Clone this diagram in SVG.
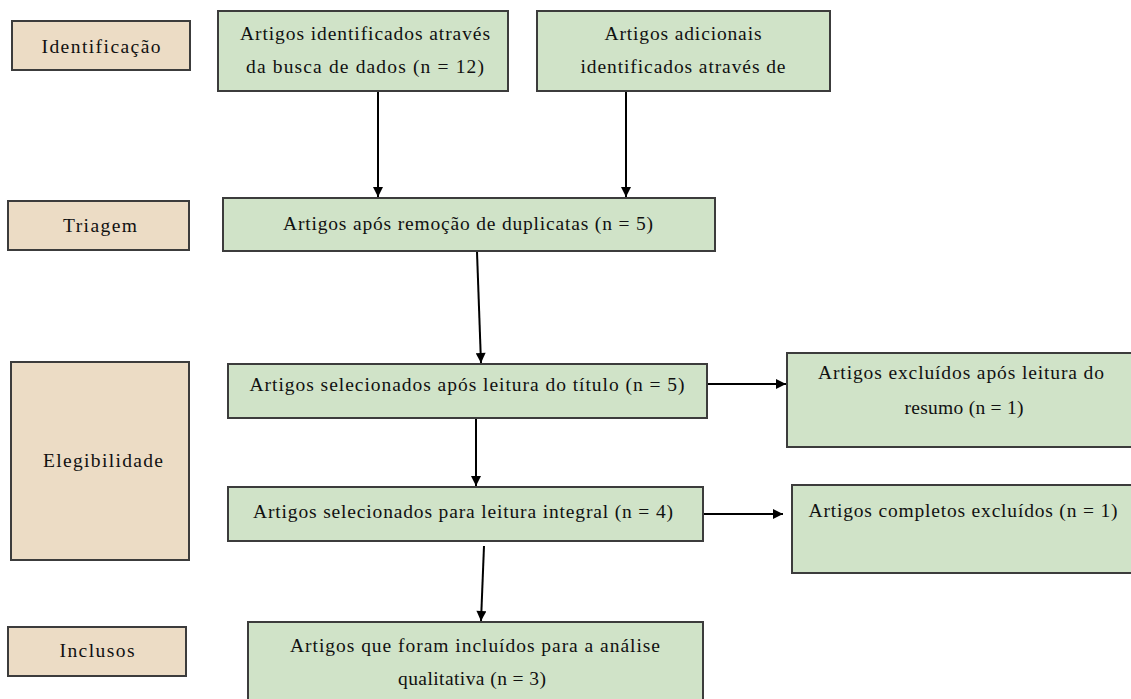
<svg xmlns="http://www.w3.org/2000/svg" width="1131" height="699" viewBox="0 0 1131 699">
<defs>
<marker id="ah" viewBox="0 0 10 10" refX="10" refY="5" markerWidth="13" markerHeight="10" markerUnits="userSpaceOnUse" orient="auto"><path d="M0,0 L10,5 L0,10 z" fill="#000"/></marker>
<style>
.lab{fill:#ecdcc5;stroke:#3c3c3c;stroke-width:2}
.box{fill:#d0e3c8;stroke:#3c3c3c;stroke-width:2}
text{font-family:"Liberation Serif","Times New Roman",serif;font-size:19.5px;fill:#111;text-anchor:middle}
.c line{stroke:#000;stroke-width:2;marker-end:url(#ah)}
</style>
</defs>
<rect width="1131" height="699" fill="#fff"/>
<g id="lab-identificacao"><rect class="lab" x="12" y="21" width="178" height="49"/><text x="101" y="53" textLength="119" lengthAdjust="spacing">Identificação</text></g>
<g id="lab-triagem"><rect class="lab" x="8" y="201" width="181" height="49"/><text x="100" y="232" textLength="74" lengthAdjust="spacing">Triagem</text></g>
<g id="lab-elegibilidade"><rect class="lab" x="11" y="362" width="178" height="198"/><text x="103" y="467" textLength="120" lengthAdjust="spacing">Elegibilidade</text></g>
<g id="lab-inclusos"><rect class="lab" x="8" y="627" width="178" height="49"/><text x="97" y="657" textLength="75" lengthAdjust="spacing">Inclusos</text></g>

<g id="n-busca"><rect class="box" x="218" y="11" width="290" height="80"/><text x="365" y="40" textLength="250" lengthAdjust="spacing">Artigos identificados através</text><text x="365" y="73" textLength="238" lengthAdjust="spacing">da busca de dados (n = 12)</text></g>
<g id="n-adicionais"><rect class="box" x="537" y="11" width="293" height="80"/><text x="683" y="40" textLength="157" lengthAdjust="spacing">Artigos adicionais</text><text x="683" y="73" textLength="205" lengthAdjust="spacing">identificados através de</text></g>
<g id="n-duplicatas"><rect class="box" x="223" y="198" width="492" height="53"/><text x="468" y="230" textLength="370" lengthAdjust="spacing">Artigos após remoção de duplicatas (n = 5)</text></g>
<g id="n-titulo"><rect class="box" x="228" y="364" width="479" height="54"/><text x="467" y="391" textLength="435" lengthAdjust="spacing">Artigos selecionados após leitura do título (n = 5)</text></g>
<g id="n-excl-resumo"><rect class="box" x="787" y="353" width="350" height="94"/><text x="961" y="379" textLength="286" lengthAdjust="spacing">Artigos excluídos após leitura do</text><text x="964" y="414" textLength="119" lengthAdjust="spacing">resumo (n = 1)</text></g>
<g id="n-integral"><rect class="box" x="228" y="487" width="475" height="54"/><text x="463" y="518" textLength="420" lengthAdjust="spacing">Artigos selecionados para leitura integral (n = 4)</text></g>
<g id="n-completos"><rect class="box" x="792" y="485" width="345" height="88"/><text x="963" y="517" textLength="309" lengthAdjust="spacing">Artigos completos excluídos (n = 1)</text></g>
<g id="n-inclusos"><rect class="box" x="248" y="622" width="455" height="80"/><text x="475" y="652" textLength="370" lengthAdjust="spacing">Artigos que foram incluídos para a análise</text><text x="472" y="685" textLength="148" lengthAdjust="spacing">qualitativa (n = 3)</text></g>

<g id="connectors" class="c">
<line x1="378" y1="92" x2="378" y2="197"/>
<line x1="626" y1="92" x2="626" y2="197"/>
<line x1="477" y1="252" x2="481" y2="363"/>
<line x1="708" y1="384" x2="786" y2="384"/>
<line x1="476" y1="419" x2="476" y2="486"/>
<line x1="704" y1="514" x2="783" y2="514"/>
<line x1="484" y1="546" x2="481" y2="621"/>
</g>
</svg>
